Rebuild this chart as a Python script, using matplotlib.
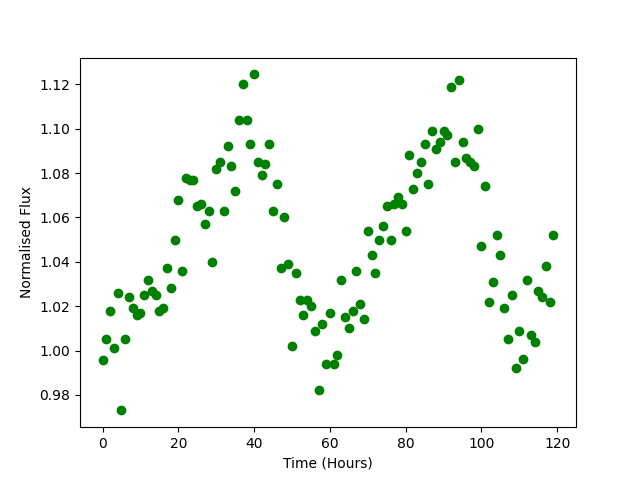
import numpy as np
import matplotlib
matplotlib.use("Agg")
import matplotlib.pyplot as plt

hours = list(range(120))
flux = [
    0.9957, 1.005, 1.0177, 1.001, 1.026, 0.973, 1.005, 1.024, 1.019, 1.016,
    1.017, 1.025, 1.032, 1.027, 1.025, 1.018, 1.019, 1.037, 1.028, 1.050,
    1.068, 1.036, 1.078, 1.077, 1.077, 1.065, 1.066, 1.057, 1.063, 1.040,
    1.082, 1.085, 1.063, 1.092, 1.083, 1.072, 1.104, 1.120, 1.104, 1.093,
    1.1245, 1.085, 1.079, 1.084, 1.093, 1.063, 1.075, 1.037, 1.060, 1.039,
    1.002, 1.035, 1.023, 1.016, 1.023, 1.020, 1.009, 0.982, 1.012, 0.994,
    1.017, 0.994, 0.998, 1.032, 1.015, 1.010, 1.018, 1.036, 1.021, 1.014,
    1.054, 1.043, 1.035, 1.050, 1.056, 1.065, 1.050, 1.066, 1.069, 1.066,
    1.054, 1.088, 1.073, 1.080, 1.085, 1.093, 1.075, 1.099, 1.091, 1.094,
    1.099, 1.097, 1.119, 1.085, 1.122, 1.094, 1.087, 1.085, 1.083, 1.100,
    1.047, 1.074, 1.022, 1.031, 1.052, 1.043, 1.019, 1.005, 1.025, 0.992,
    1.009, 0.996, 1.032, 1.007, 1.004, 1.027, 1.024, 1.038, 1.022, 1.052,
]

fig, ax = plt.subplots(figsize=(6.4, 4.8), dpi=100)
ax.plot(hours, flux, 'go')
ax.set_xlabel('Time (Hours)')
ax.set_ylabel('Normalised Flux')
fig.savefig('out.png', dpi=100)
